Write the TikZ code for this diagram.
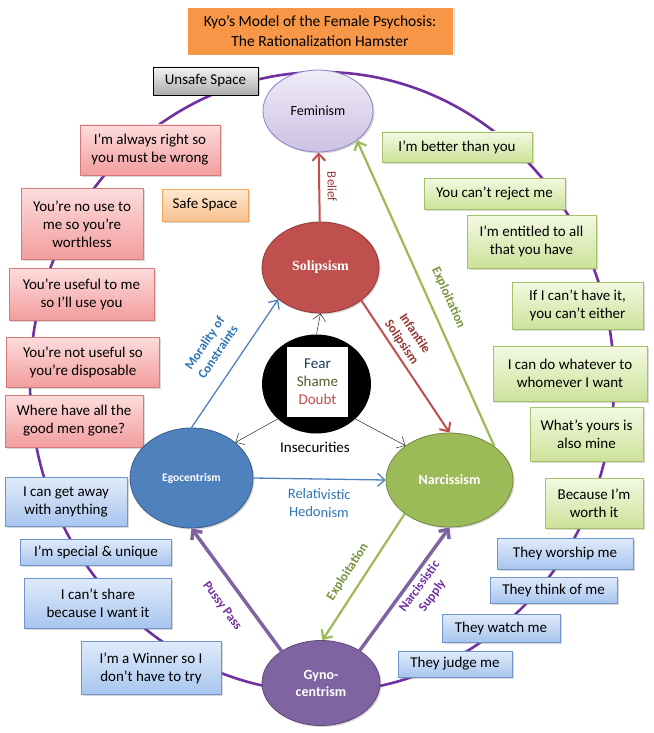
\documentclass[tikz,border=0pt]{standalone}
\usepackage{fontspec}
\setmainfont{Carlito}
\newfontfamily\corefont{Liberation Serif}
\usetikzlibrary{shapes.geometric, arrows.meta, shadows}

\definecolor{ringpurple}{HTML}{7030A0}
\definecolor{pinktop}{HTML}{FDDCDC}
\definecolor{pinkbot}{HTML}{F29D9D}
\definecolor{pinkline}{HTML}{D27B78}
\definecolor{greentop}{HTML}{F3F9E2}
\definecolor{greenbot}{HTML}{CDE29A}
\definecolor{greenline}{HTML}{A5C26A}
\definecolor{bluetop}{HTML}{E0EBFA}
\definecolor{bluebot}{HTML}{A8C5EF}
\definecolor{blueline}{HTML}{6F96CC}
\definecolor{safetop}{HTML}{FEE8D2}
\definecolor{safebot}{HTML}{FAC18F}
\definecolor{safeline}{HTML}{F5A65B}
\definecolor{graytop}{HTML}{F4F4F4}
\definecolor{graybot}{HTML}{ABABAB}
\definecolor{femtop}{HTML}{F0ECF8}
\definecolor{fembot}{HTML}{CCC1E2}
\definecolor{femline}{HTML}{8E80C6}
\definecolor{titleorange}{HTML}{F79646}
\definecolor{solired}{HTML}{C0504D}
\definecolor{soliline}{HTML}{8C3A38}
\definecolor{egoblue}{HTML}{4F81BD}
\definecolor{egoline}{HTML}{385D8A}
\definecolor{narcgreen}{HTML}{9BBB59}
\definecolor{narcline}{HTML}{71893F}
\definecolor{gynopurple}{HTML}{8064A2}
\definecolor{gynoline}{HTML}{5C4776}
\definecolor{fearblue}{HTML}{17375E}
\definecolor{shameolive}{HTML}{4F6228}
\definecolor{doubtred}{HTML}{C0504D}
\definecolor{lblred}{HTML}{953735}
\definecolor{lblblue}{HTML}{2E75B6}
\definecolor{lblgreen}{HTML}{77933C}

\begin{document}
\begin{tikzpicture}[
    x=1pt, y=-1pt,
    font=\fontsize{15}{18}\selectfont,
    saybox/.style={
        rectangle, thin, align=center, inner sep=0pt,
        drop shadow={shadow xshift=1.5pt, shadow yshift=-1.5pt, opacity=0.3}
    },
    pinkbox/.style={saybox, draw=pinkline, top color=pinktop, bottom color=pinkbot},
    greenbox/.style={saybox, draw=greenline, top color=greentop, bottom color=greenbot},
    bluebox/.style={saybox, draw=blueline, top color=bluetop, bottom color=bluebot},
    core/.style={
        ellipse, thick, align=center, inner sep=0pt, text=white,
        font=\fontsize{14}{15}\selectfont\bfseries,
        drop shadow={shadow xshift=1.5pt, shadow yshift=-1.5pt, opacity=0.3}
    },
    flow/.style={-{Straight Barb[length=7pt, width=13pt]}},
    lbl/.style={sloped, align=center, font=\fontsize{13}{16}\selectfont\bfseries}
]
\useasboundingbox (0,0) rectangle (653,733);

% ---------------------------------------------------------------------
% THE WHEEL
% ---------------------------------------------------------------------
\node[ellipse, draw=ringpurple, line width=2.6pt, minimum width=584, minimum height=620] (Wheel) at (322,382) {};

% ---------------------------------------------------------------------
% TITLE AND SPACES
% ---------------------------------------------------------------------
\node[saybox, fill=titleorange, draw=white, minimum width=266, minimum height=48,
      font=\fontsize{15.5}{20}\selectfont] (Title) at (320,31)
      {Kyo’s Model of the Female Psychosis:\\The Rationalization Hamster};
\node[saybox, draw=black, top color=graytop, bottom color=graybot, minimum width=105, minimum height=28] (Unsafe) at (205.5,81) {Unsafe Space};
\node[saybox, draw=safeline, top color=safetop, bottom color=safebot, minimum width=86, minimum height=32] (Safe) at (205,205) {Safe Space};

% ---------------------------------------------------------------------
% LEFT: PINK AND BLUE BOXES
% ---------------------------------------------------------------------
\node[pinkbox, minimum width=140, minimum height=50] (Pink1) at (150,150) {I’m always right so\\you must be wrong};
\node[pinkbox, minimum width=122, minimum height=71] (Pink2) at (82,224) {You’re no use to\\me so you’re\\worthless};
\node[pinkbox, minimum width=145, minimum height=52] (Pink3) at (81.5,294) {You’re useful to me\\so I’ll use you};
\node[pinkbox, minimum width=153, minimum height=50] (Pink4) at (83,362) {You’re not useful so\\you’re disposable};
\node[pinkbox, minimum width=138, minimum height=52] (Pink5) at (74,421) {Where have all the\\good men gone?};

\node[bluebox, minimum width=122, minimum height=49] (BlueL1) at (66,502) {I can get away\\with anything};
\node[bluebox, minimum width=151, minimum height=26] (BlueL2) at (96,552) {I’m special \& unique};
\node[bluebox, minimum width=147, minimum height=50] (BlueL3) at (98,603) {I can’t share\\because I want it};
\node[bluebox, minimum width=140, minimum height=53] (BlueL4) at (151,668) {I’m a Winner so I\\don’t have to try};

% ---------------------------------------------------------------------
% RIGHT: GREEN AND BLUE BOXES
% ---------------------------------------------------------------------
\node[greenbox, minimum width=150, minimum height=30] (Green1) at (457,147) {I’m better than you};
\node[greenbox, minimum width=141, minimum height=31] (Green2) at (494.5,193.5) {You can’t reject me};
\node[greenbox, minimum width=129, minimum height=53] (Green3) at (531.5,241.5) {I’m entitled to all\\that you have};
\node[greenbox, minimum width=131, minimum height=47] (Green4) at (577.5,305.5) {If I can’t have it,\\you can’t either};
\node[greenbox, minimum width=154, minimum height=55] (Green5) at (570,373.5) {I can do whatever to\\whomever I want};
\node[greenbox, minimum width=113, minimum height=54] (Green6) at (586.5,434) {What’s yours is\\also mine};
\node[greenbox, minimum width=98, minimum height=50] (Green7) at (594,503) {Because I’m\\worth it};

\node[bluebox, minimum width=136, minimum height=31] (BlueR1) at (565,553.5) {They worship me};
\node[bluebox, minimum width=127, minimum height=26] (BlueR2) at (553.5,590) {They think of me};
\node[bluebox, minimum width=118, minimum height=28] (BlueR3) at (501,628) {They watch me};
\node[bluebox, minimum width=114, minimum height=26] (BlueR4) at (455,664) {They judge me};

% ---------------------------------------------------------------------
% CORE ELLIPSES
% ---------------------------------------------------------------------
\node[core, draw=femline, top color=femtop, bottom color=fembot, text=black,
      font=\fontsize{14}{15}\selectfont, minimum width=110, minimum height=82] (Feminism) at (318,111) {Feminism};
\node[core, draw=soliline, fill=solired, minimum width=117, minimum height=91,
      font=\fontsize{14}{15}\selectfont\corefont\bfseries] (Solipsism) at (320.5,267.5) {Solipsism};
\node[core, draw=egoline, fill=egoblue, minimum width=123, minimum height=100,
      font=\fontsize{11.5}{12}\selectfont\bfseries] (Egocentrism) at (191.5,478) {Egocentrism};
\node[core, draw=narcline, fill=narcgreen, minimum width=127, minimum height=94] (Narcissism) at (449.5,480) {Narcissism};
\node[core, draw=gynoline, fill=gynopurple, minimum width=118, minimum height=85,
      font=\fontsize{14}{17}\selectfont\bfseries] (Gynocentrism) at (321,683) {Gyno-\\centrism};

% insecurities
\node[ellipse, fill=black, minimum width=109, minimum height=99] (Fear) at (316.5,384) {};
\node[rectangle, fill=white, minimum width=61, minimum height=70, inner sep=0pt, align=center,
      font=\fontsize{15}{18}\selectfont] (Feelings) at (317.5,382)
      {\textcolor{fearblue}{Fear}\\\textcolor{shameolive}{Shame}\\\textcolor{doubtred}{Doubt}};
\node (Insecurities) at (315,447) {Insecurities};

% ---------------------------------------------------------------------
% CONNECTORS
% ---------------------------------------------------------------------
\draw[flow, thin] (Fear.north) -- (Solipsism.south);
\draw[flow, thin] (Fear.222) -- (Egocentrism.39);
\draw[flow, thin] (Fear.318) -- (Narcissism.142);

\draw[flow, solired, line width=2pt] (Solipsism) -- node[lbl, above=4pt, text=lblred, font=\fontsize{13}{16}\selectfont] {Belief} (Feminism);
\draw[flow, solired, line width=2pt] (Solipsism.-39) -- node[lbl, above, pos=0.36, text=lblred] {Infantile\\Solipsism} (Narcissism.north);

\draw[flow, egoblue, line width=1.3pt] (Egocentrism.north) -- node[lbl, above=12pt, text=lblblue] {Morality of\\Constraints} (Solipsism.217);
\draw[flow, egoblue, line width=1.3pt] (Egocentrism.east) -- node[lbl, below=6pt, font=\fontsize{14.5}{18}\selectfont, text=lblblue] {Relativistic\\Hedonism} (Narcissism.west);

\draw[flow, narcgreen, line width=2.2pt] (Narcissism.37) -- node[lbl, above=9pt, pos=0.46, text=lblgreen] {Exploitation} (Feminism.-37);
\draw[flow, narcgreen, line width=2.2pt] (Narcissism.217) -- node[lbl, above=6pt, pos=0.53, text=lblgreen] {Exploitation} (Gynocentrism.88);

\draw[flow, gynopurple, line width=3.5pt] (Gynocentrism.40) -- node[lbl, below, pos=0.57, text=ringpurple] {Narcissistic\\Supply} (Narcissism.south);
\draw[flow, gynopurple, line width=3.5pt] (Gynocentrism.141) -- node[lbl, below=11pt, pos=0.47, text=ringpurple] {Pussy Pass} (Egocentrism.south);

\end{tikzpicture}
\end{document}
